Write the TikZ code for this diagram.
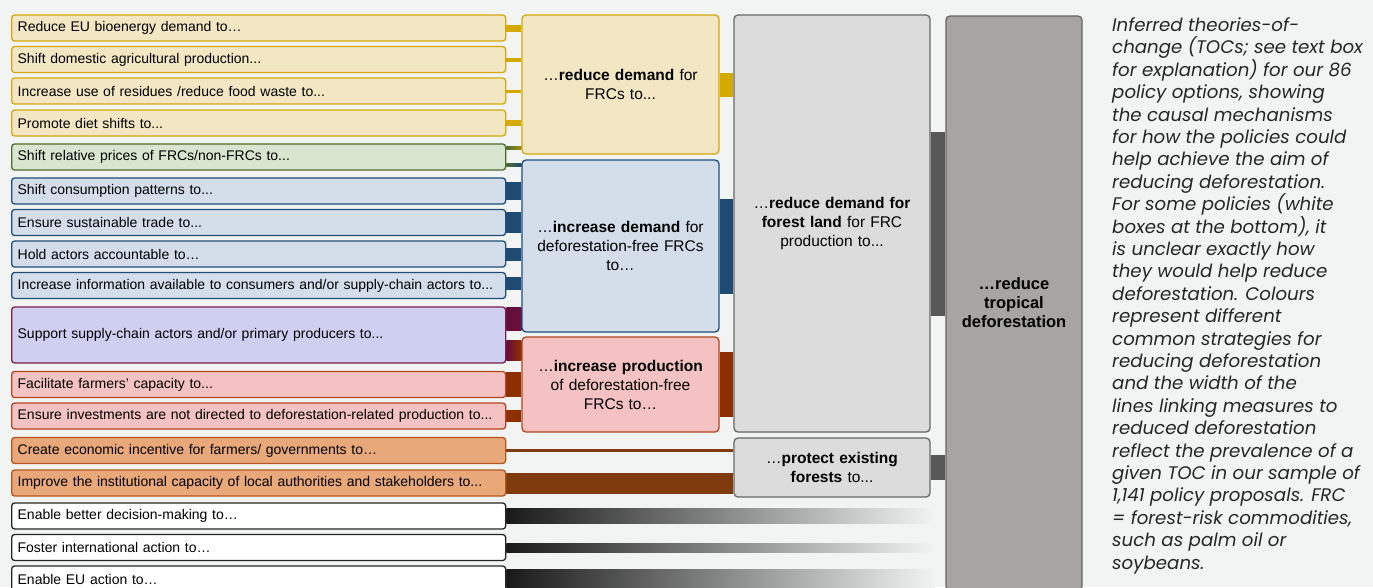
\documentclass[tikz,border=0pt]{standalone}
\usepackage{fontspec}
\setmainfont{Liberation Sans}
\newfontfamily\notefont{Poppins}
\usetikzlibrary{backgrounds}
\definecolor{pagebg}{HTML}{F2F4F3}
\definecolor{goldline}{HTML}{D4A90C}
\definecolor{goldfill}{HTML}{F2E6C3}
\definecolor{goldconn}{HTML}{D4AA00}
\definecolor{leafline}{HTML}{4E6B30}
\definecolor{leaffill}{HTML}{D9E6CF}
\definecolor{navyline}{HTML}{1F4E79}
\definecolor{navyfill}{HTML}{D3DEEA}
\definecolor{navyconn}{HTML}{1F4A72}
\definecolor{plumline}{HTML}{7A1E4A}
\definecolor{plumfill}{HTML}{CFCFF2}
\definecolor{plumconn}{HTML}{650C3A}
\definecolor{rustline}{HTML}{B3471B}
\definecolor{rustfill}{HTML}{F4C2C2}
\definecolor{rustconn}{HTML}{8E2F02}
\definecolor{clayline}{HTML}{B3571E}
\definecolor{clayfill}{HTML}{E8A87A}
\definecolor{clayconn}{HTML}{7F3A0E}
\definecolor{greyline}{HTML}{666666}
\definecolor{greyfill}{HTML}{DCDCDC}
\definecolor{greydark}{HTML}{A6A5A3}
\definecolor{greyconn}{HTML}{575857}
\definecolor{notetext}{HTML}{262626}

\begin{document}
\begin{tikzpicture}[x=1pt, y=-1pt, font=\fontsize{14}{16}\selectfont,
  lever/.style={line width=1.3pt, rounded corners=3pt, minimum height=26pt,
    text width=482pt, align=left, inner xsep=6pt, inner ysep=0pt, anchor=west},
  yel/.style={lever, draw=goldline, fill=goldfill},
  grn/.style={lever, draw=leafline, fill=leaffill},
  blu/.style={lever, draw=navyline, fill=navyfill},
  pur/.style={lever, draw=plumline, fill=plumfill},
  pnk/.style={lever, draw=rustline, fill=rustfill},
  org/.style={lever, draw=clayline, fill=clayfill},
  wht/.style={lever, draw=black!85, fill=white},
  mech/.style={line width=1.3pt, rounded corners=4pt, minimum width=197pt,
    text width=192pt, align=center, inner sep=0pt, font=\fontsize{15.5}{19}\selectfont},
  conn/.style={line width=#1}]
\clip (0,0) rectangle (1373,587);

% policy options
\node[yel] (b1) at (11,28) {Reduce EU bioenergy demand to…};
\node[yel] (b2) at (11,59.5) {Shift domestic agricultural production...};
\node[yel] (b3) at (11,91) {Increase use of residues /reduce food waste to...};
\node[yel] (b4) at (11,123) {Promote diet shifts to...};
\node[grn] (b5) at (11,157) {Shift relative prices of FRCs/non-FRCs to...};
\node[blu] (b6) at (11,191) {Shift consumption patterns to...};
\node[blu] (b7) at (11,222.5) {Ensure sustainable trade to...};
\node[blu] (b8) at (11,254) {Hold actors accountable to…};
\node[blu] (b9) at (11,285.5) {Increase information available to consumers and/or supply-chain actors to...};
\node[pur, minimum height=56pt] (b10) at (11,335) {Support supply-chain actors and/or primary producers to...};
\node[pnk] (b11) at (11,384.5) {Facilitate farmers’ capacity to...};
\node[pnk] (b12) at (11,416) {Ensure investments are not directed to deforestation-related production to...};
\node[org] (b13) at (11,450.5) {Create economic incentive for farmers/ governments to…};
\node[org] (b14) at (11,483) {Improve the institutional capacity of local authorities and stakeholders to...};
\node[wht] (b15) at (11,516) {Enable better decision-making to…};
\node[wht] (b16) at (11,547.5) {Foster international action to…};
\node[wht] (b17) at (11,579) {Enable EU action to…};

% mechanisms
\node[mech, draw=goldline, fill=goldfill, minimum height=139pt] (rd) at (620.5,84.5)
  {…\textbf{reduce demand} for\\FRCs to...};
\node[mech, draw=navyline, fill=navyfill, minimum height=172pt] (id) at (620.5,246)
  {…\textbf{increase demand} for\\deforestation-free FRCs\\to…};
\node[mech, draw=rustline, fill=rustfill, minimum height=95pt] (ip) at (620.5,384.5)
  {…\textbf{increase production}\\of deforestation-free\\FRCs to…};
\node[mech, draw=greyline, fill=greyfill, minimum width=196pt, minimum height=417pt] (fl) at (832,223.5)
  {…\textbf{reduce demand for}\\\textbf{forest land} for FRC\\production to...};
\node[mech, draw=greyline, fill=greyfill, minimum width=196pt, minimum height=59pt] (pe) at (832,467.5)
  {…\textbf{protect existing}\\\textbf{forests} to...};
\node[mech, draw=greyline, fill=greydark, minimum width=136pt, text width=132pt, minimum height=574pt,
      font=\fontsize{16.5}{19}\selectfont] (aim) at (1014,303)
  {\textbf{…reduce}\\\textbf{tropical}\\\textbf{deforestation}};
\coordinate (fadeend) at (935,0);

% caption
\node[anchor=base west, align=left, text=notetext, inner sep=0pt,
      font=\notefont\itshape\fontsize{18.2}{22.4}\selectfont] (note) at (1112,569)
  {Inferred theories-of-\\change (TOCs; see text box\\for explanation) for our 86\\policy options, showing\\the causal mechanisms\\for how the policies could\\help achieve the aim of\\reducing deforestation.\\For some policies (white\\boxes at the bottom), it\\is unclear exactly how\\they would help reduce\\deforestation. Colours\\represent different\\common strategies for\\reducing deforestation\\and the width of the\\lines linking measures to\\reduced deforestation\\reflect the prevalence of a\\given TOC in our sample of\\1,141 policy proposals. FRC\\= forest-risk commodities,\\such as palm oil or\\soybeans.};

\begin{pgfonlayer}{background}
\fill[pagebg] (0,0) rectangle (1373,587);
% links into the mechanisms
\draw[conn=7pt, goldconn] (b1.east) -- (b1.east -| rd.west);
\draw[conn=4pt, goldconn] (b2.east) -- (b2.east -| rd.west);
\draw[conn=3pt, goldconn] (b3.east) -- (b3.east -| rd.west);
\draw[conn=6pt, goldconn] (b4.east) -- (b4.east -| rd.west);
\shade[left color=leafline, right color=goldconn!60!leafline] ([yshift=10.5pt]b5.east) rectangle ([yshift=7.5pt]b5.east -| rd.west);
\shade[left color=leafline, right color=navyconn] ([yshift=-6.5pt]b5.east) rectangle ([yshift=-9.5pt]b5.east -| id.west);
\draw[conn=18pt, navyconn] (b6.east) -- (b6.east -| id.west);
\draw[conn=21pt, navyconn] (b7.east) -- (b7.east -| id.west);
\draw[conn=13pt, navyconn] (b8.east) -- (b8.east -| id.west);
\draw[conn=13pt, navyconn] ([yshift=2pt]b9.east) -- ([yshift=2pt]b9.east -| id.west);
\shade[left color=plumconn, right color=plumconn!80!plumline] ([yshift=28pt]b10.east) rectangle ([yshift=5pt]b10.east -| id.west);
\shade[left color=plumconn, right color=rustconn] ([yshift=-5pt]b10.east) rectangle ([yshift=-25pt]b10.east -| ip.west);
\draw[conn=25pt, rustconn] (b11.east) -- (b11.east -| ip.west);
\draw[conn=12pt, rustconn] (b12.east) -- (b12.east -| ip.west);
\draw[conn=3pt, clayconn] (b13.east) -- (b13.east -| pe.west);
\draw[conn=21pt, clayconn] (b14.east) -- (b14.east -| pe.west);
\shade[left color=black!90, right color=pagebg] ([yshift=7.5pt]b15.east) rectangle ([yshift=-7.5pt]b15.east -| fadeend);
\shade[left color=black!90, right color=pagebg] ([yshift=4.5pt]b16.east) rectangle ([yshift=-4.5pt]b16.east -| fadeend);
\shade[left color=black!90, right color=pagebg] ([yshift=10pt]b17.east) rectangle ([yshift=-11pt]b17.east -| fadeend);
% links onwards
\draw[conn=24pt, goldconn] (rd.east) -- (rd.east -| fl.west);
\draw[conn=95pt, navyconn] (id.east) -- (id.east -| fl.west);
\draw[conn=65pt, rustconn] (ip.east) -- (ip.east -| fl.west);
\draw[conn=184pt, greyconn] (fl.east) -- (fl.east -| aim.west);
\draw[conn=25pt, greyconn] (pe.east) -- (pe.east -| aim.west);
\end{pgfonlayer}
\end{tikzpicture}
\end{document}
